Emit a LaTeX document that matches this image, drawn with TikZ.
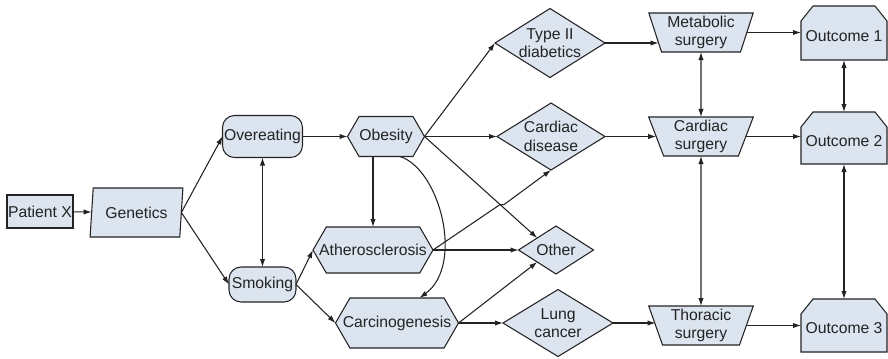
\documentclass[tikz,border=0pt]{standalone}
\usepackage{fontspec}
\setmainfont{Liberation Sans}
\usetikzlibrary{shapes.geometric,shapes.symbols,arrows.meta,calc,intersections}

\definecolor{boxfill}{RGB}{220,228,239}
\definecolor{ink}{RGB}{35,35,35}

% one drawing unit
\newdimen\pxu \pxu=0.75pt

\pgfdeclarelayer{back}
\pgfsetlayers{back,main}

\tikzset{
  base/.style={draw=ink, fill=boxfill, line width=0.8pt, inner sep=0pt, outer sep=0pt},
  txt/.style={font=\fontsize{11.8}{14}\selectfont, align=center, inner sep=0pt, text=ink},
  sqbox/.style={base, rectangle},
  roundbox/.style={base, rectangle, rounded corners=9pt},
  slantbox/.style={base, txt, trapezium, trapezium left angle=79, trapezium right angle=101,
    trapezium stretches=true},
  surgbox/.style={base, txt, trapezium, trapezium left angle=108, trapezium right angle=108,
    trapezium stretches=true, minimum width=105\pxu, minimum height=39\pxu},
  hexbox/.style={base, signal, signal to=east and west, signal pointer angle=120},
  diabox/.style={base, diamond},
  % outcome boxes: plain frame here, the cut-corner outline is drawn behind them
  outbox/.style={rectangle, inner sep=0pt, outer sep=0pt, minimum width=86\pxu},
  arr/.style={draw=ink, line width=0.8pt, -{Latex[length=6pt,width=4pt]}},
  darr/.style={draw=ink, line width=0.8pt, {Latex[length=6pt,width=4pt]}-{Latex[length=6pt,width=4pt]}},
}

\begin{document}
\begin{tikzpicture}[x=1\pxu, y=-1\pxu]
\useasboundingbox (0,0) rectangle (888,358);

% causes
\node[sqbox, minimum width=66\pxu, minimum height=33\pxu, label={[txt]center:Patient X}] (px) at (40,211.5) {};
\node[slantbox, minimum width=93\pxu, minimum height=49\pxu] (gen) at (136.5,212.5) {Genetics};
\node[roundbox, minimum width=80\pxu, minimum height=42\pxu, label={[txt]center:Overeating}] (ov) at (262.5,136.5) {};
\node[roundbox, minimum width=67\pxu, minimum height=35\pxu, label={[txt]center:Smoking}] (sm) at (262.5,284.5) {};

% conditions
\node[hexbox, minimum width=77\pxu, minimum height=40\pxu, label={[txt]center:Obesity}] (ob) at (386,136.5) {};
\node[hexbox, minimum width=120\pxu, minimum height=46\pxu, label={[txt]center:Atherosclerosis}] (at) at (373,250) {};
\node[hexbox, minimum width=123\pxu, minimum height=50\pxu, label={[txt]center:Carcinogenesis}] (cg) at (397,323) {};

% diseases
\node[diabox, minimum width=110\pxu, minimum height=69\pxu, label={[txt]center:Type II\\diabetics}] (t2) at (550,43) {};
\node[diabox, minimum width=108\pxu, minimum height=67\pxu, label={[txt]center:Cardiac\\disease}] (cd) at (551,136.5) {};
\node[diabox, minimum width=75\pxu, minimum height=48\pxu, label={[txt]center:Other}] (ot) at (556,250) {};
\node[diabox, minimum width=110\pxu, minimum height=67\pxu, label={[txt]center:Lung\\cancer}] (lc) at (558,323) {};

% treatments
\node[surgbox] (ms) at (701,32.5) {Metabolic\\surgery};
\node[surgbox] (cs) at (701,136.5) {Cardiac\\surgery};
\node[surgbox] (ts) at (701,325.5) {Thoracic\\surgery};

% outcomes
\node[outbox, minimum height=54\pxu, label={[txt,yshift=-2pt]center:Outcome 1}] (o1) at (844,33) {};
\node[outbox, minimum height=52\pxu, label={[txt,yshift=-2pt]center:Outcome 2}] (o2) at (844,138) {};
\node[outbox, minimum height=53\pxu, label={[txt,yshift=-2pt]center:Outcome 3}] (o3) at (844,325.5) {};
\begin{pgfonlayer}{back}
  \foreach \o in {o1,o2,o3}
    \filldraw[base] (\o.south west) -- ([yshift=-15\pxu]\o.north west)
      -- ([xshift=12\pxu]\o.north west) -- ([xshift=-12\pxu]\o.north east)
      -- ([yshift=-15\pxu]\o.north east) -- (\o.south east) -- cycle;
\end{pgfonlayer}

% connectors
\draw[arr] (px) -- (gen);
\draw[arr] (gen.east) -- (ov.west);
\draw[arr] (gen.east) -- (sm.west);
\draw[darr] (ov) -- (sm);
\draw[arr] (ov) -- (ob);
\draw[arr] (ob.east) -- (t2.west);
\draw[arr] (ob.east) -- (cd.west);
\draw[arr, name path=obot] (ob.east) -- (ot.north west);
\draw[arr] (at.north |- ob.south) -- (at.north);
\draw[arr] (ob.-55) .. controls +(40,13) and +(45,-33) .. (cg.48);
\draw[arr] (sm.east) -- (at.west);
\draw[arr] (sm.east) -- (cg.west);
% this one steps sideways where it crosses the Obesity--Other line
\path[name path=atcd] (at.east) -- (cd.south);
\path[name intersections={of=obot and atcd, by=cross}];
\draw[arr] (at.east) -- (cross) -- ++(4,0) -- (cd.south);
\draw[arr] (at.east) -- (ot.west);
\draw[arr] (cg.east) -- (ot.south west);
\draw[arr] (cg.east) -- (lc.west);

\draw[arr] (t2.east) -- (t2.east -| ms.194);
\draw[arr] (cd.east) -- (cd.east -| cs.west);
\draw[arr] (lc.east) -- (lc.east -| ts.west);
\draw[darr] (ms) -- (cs);
\draw[darr] (cs) -- (ts);

\draw[arr] (ms.east) -- (ms.east -| o1.west);
\draw[arr] (cs.east) -- (cs.east -| o2.west);
\draw[arr] (ts.east) -- (ts.east -| o3.west);
\draw[darr] (o1) -- (o2);
\draw[darr] (o2) -- (o3);
\end{tikzpicture}
\end{document}
